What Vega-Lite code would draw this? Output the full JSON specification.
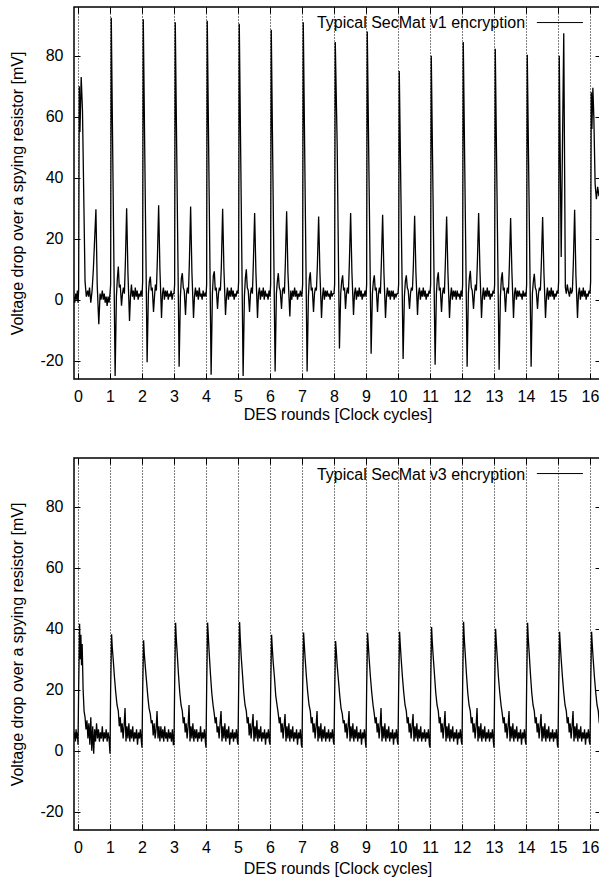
{
"$schema":"https://vega.github.io/schema/vega-lite/v6.json",
"padding":{"left":9,"top":5,"right":0,"bottom":0},
"background":"white",
"spacing":33,
"config":{
 "font":"Liberation Sans",
 "view":{"stroke":"black","strokeWidth":1.5},
 "axis":{"labelFont":"Liberation Sans","titleFont":"Liberation Sans","labelFontSize":16,"titleFontSize":16,"titleFontWeight":"normal","labelColor":"black","titleColor":"black","tickColor":"black","tickWidth":1,"domain":false,"labelFlush":false,"labelOverlap":false}
},
"datasets":{
"v1":[
{"x":-0.125,"y":1},{"x":-0.1,"y":-1},{"x":-0.07,"y":2},{"x":-0.04,"y":0},{"x":-0.02,"y":3},{"x":0,"y":-1},{"x":0.02,"y":3},{"x":0.04,"y":70},{"x":0.06,"y":55},{"x":0.1,"y":73},{"x":0.14,"y":62},{"x":0.22,"y":6},{"x":0.26,"y":1},{"x":0.3,"y":3},{"x":0.33,"y":1},{"x":0.36,"y":4},{"x":0.4,"y":-1},{"x":0.44,"y":3},{"x":0.48,"y":10},{"x":0.56,"y":29.7},{"x":0.6,"y":5},{"x":0.65,"y":-8},{"x":0.69,"y":2},{"x":0.72,"y":0},{"x":0.76,"y":3},{"x":0.79,"y":0},{"x":0.82,"y":2},{"x":0.85,"y":-1},{"x":0.88,"y":1},{"x":0.91,"y":-2},{"x":0.94,"y":1},{"x":0.97,"y":-1},
{"x":1,"y":2},{"x":1.02,"y":5},{"x":1.04,"y":92.5},{"x":1.16,"y":-25},{"x":1.2,"y":1},{"x":1.23,"y":7},{"x":1.26,"y":10.9},{"x":1.29,"y":4},{"x":1.32,"y":5},{"x":1.36,"y":-2},{"x":1.39,"y":2},{"x":1.42,"y":4},{"x":1.45,"y":2},{"x":1.48,"y":12},{"x":1.52,"y":30},{"x":1.56,"y":9},{"x":1.61,"y":-7},{"x":1.64,"y":1},{"x":1.67,"y":5},{"x":1.7,"y":1},{"x":1.73,"y":3},{"x":1.76,"y":0},{"x":1.79,"y":4},{"x":1.82,"y":1},{"x":1.85,"y":3},{"x":1.88,"y":0},{"x":1.91,"y":2},{"x":1.94,"y":1},{"x":1.97,"y":3},
{"x":2,"y":1},{"x":2.02,"y":6},{"x":2.04,"y":92},{"x":2.16,"y":-20.5},{"x":2.2,"y":2},{"x":2.23,"y":6},{"x":2.26,"y":7.6},{"x":2.29,"y":3},{"x":2.32,"y":4},{"x":2.36,"y":-4},{"x":2.39,"y":1},{"x":2.42,"y":5},{"x":2.45,"y":3},{"x":2.48,"y":13},{"x":2.52,"y":31},{"x":2.56,"y":10},{"x":2.61,"y":-6},{"x":2.64,"y":2},{"x":2.67,"y":4},{"x":2.7,"y":0},{"x":2.73,"y":3},{"x":2.76,"y":1},{"x":2.79,"y":3},{"x":2.82,"y":0},{"x":2.85,"y":2},{"x":2.88,"y":1},{"x":2.91,"y":3},{"x":2.94,"y":0},{"x":2.97,"y":2},
{"x":3,"y":2},{"x":3.02,"y":5},{"x":3.04,"y":91},{"x":3.16,"y":-22},{"x":3.2,"y":1},{"x":3.23,"y":7},{"x":3.26,"y":8.7},{"x":3.29,"y":4},{"x":3.32,"y":3},{"x":3.36,"y":-5},{"x":3.39,"y":2},{"x":3.42,"y":4},{"x":3.45,"y":2},{"x":3.48,"y":12},{"x":3.52,"y":30.6},{"x":3.56,"y":9},{"x":3.61,"y":-6},{"x":3.64,"y":1},{"x":3.67,"y":4},{"x":3.7,"y":1},{"x":3.73,"y":3},{"x":3.76,"y":0},{"x":3.79,"y":4},{"x":3.82,"y":1},{"x":3.85,"y":2},{"x":3.88,"y":0},{"x":3.91,"y":3},{"x":3.94,"y":1},{"x":3.97,"y":2},
{"x":4,"y":1},{"x":4.02,"y":5},{"x":4.04,"y":91.5},{"x":4.16,"y":-24.6},{"x":4.2,"y":2},{"x":4.23,"y":8},{"x":4.26,"y":9.3},{"x":4.29,"y":3},{"x":4.32,"y":4},{"x":4.36,"y":-3},{"x":4.39,"y":2},{"x":4.42,"y":4},{"x":4.45,"y":3},{"x":4.48,"y":11},{"x":4.52,"y":29.8},{"x":4.56,"y":10},{"x":4.61,"y":-5},{"x":4.64,"y":1},{"x":4.67,"y":4},{"x":4.7,"y":0},{"x":4.73,"y":3},{"x":4.76,"y":1},{"x":4.79,"y":4},{"x":4.82,"y":1},{"x":4.85,"y":3},{"x":4.88,"y":0},{"x":4.91,"y":2},{"x":4.94,"y":1},{"x":4.97,"y":3},
{"x":5,"y":2},{"x":5.02,"y":6},{"x":5.04,"y":90.5},{"x":5.16,"y":-25},{"x":5.2,"y":1},{"x":5.23,"y":7},{"x":5.26,"y":10},{"x":5.29,"y":4},{"x":5.32,"y":3},{"x":5.36,"y":-4},{"x":5.39,"y":2},{"x":5.42,"y":4},{"x":5.45,"y":2},{"x":5.48,"y":12},{"x":5.52,"y":28.4},{"x":5.56,"y":9},{"x":5.61,"y":-6},{"x":5.64,"y":2},{"x":5.67,"y":4},{"x":5.7,"y":0},{"x":5.73,"y":3},{"x":5.76,"y":1},{"x":5.79,"y":4},{"x":5.82,"y":0},{"x":5.85,"y":3},{"x":5.88,"y":1},{"x":5.91,"y":2},{"x":5.94,"y":0},{"x":5.97,"y":3},
{"x":6,"y":1},{"x":6.02,"y":5},{"x":6.04,"y":88.5},{"x":6.16,"y":-23.5},{"x":6.2,"y":2},{"x":6.23,"y":6},{"x":6.26,"y":8.7},{"x":6.29,"y":4},{"x":6.32,"y":3},{"x":6.36,"y":-3},{"x":6.39,"y":3},{"x":6.42,"y":4},{"x":6.45,"y":2},{"x":6.48,"y":12},{"x":6.52,"y":29},{"x":6.56,"y":9},{"x":6.62,"y":-5.5},{"x":6.65,"y":3},{"x":6.68,"y":0},{"x":6.71,"y":3},{"x":6.74,"y":1},{"x":6.77,"y":4},{"x":6.8,"y":1},{"x":6.83,"y":3},{"x":6.86,"y":0},{"x":6.89,"y":2},{"x":6.92,"y":1},{"x":6.95,"y":3},{"x":6.98,"y":1},
{"x":7,"y":2},{"x":7.02,"y":5},{"x":7.04,"y":91},{"x":7.16,"y":-23.5},{"x":7.2,"y":1},{"x":7.23,"y":7},{"x":7.26,"y":9},{"x":7.29,"y":3},{"x":7.32,"y":4},{"x":7.36,"y":-4},{"x":7.39,"y":2},{"x":7.42,"y":4},{"x":7.45,"y":3},{"x":7.48,"y":11},{"x":7.52,"y":27.3},{"x":7.56,"y":9},{"x":7.61,"y":-6},{"x":7.64,"y":1},{"x":7.67,"y":4},{"x":7.7,"y":0},{"x":7.73,"y":3},{"x":7.76,"y":1},{"x":7.79,"y":3},{"x":7.82,"y":1},{"x":7.85,"y":2},{"x":7.88,"y":0},{"x":7.91,"y":3},{"x":7.94,"y":1},{"x":7.97,"y":2},
{"x":8,"y":2},{"x":8.02,"y":5},{"x":8.04,"y":84.5},{"x":8.08,"y":62},{"x":8.1,"y":50},{"x":8.17,"y":-16},{"x":8.21,"y":2},{"x":8.24,"y":6},{"x":8.27,"y":8},{"x":8.3,"y":3},{"x":8.33,"y":4},{"x":8.36,"y":-3},{"x":8.39,"y":2},{"x":8.42,"y":4},{"x":8.45,"y":2},{"x":8.48,"y":12},{"x":8.52,"y":28.4},{"x":8.56,"y":9},{"x":8.61,"y":-5},{"x":8.64,"y":2},{"x":8.67,"y":4},{"x":8.7,"y":0},{"x":8.73,"y":3},{"x":8.76,"y":1},{"x":8.79,"y":4},{"x":8.82,"y":1},{"x":8.85,"y":3},{"x":8.88,"y":0},{"x":8.91,"y":2},{"x":8.94,"y":1},{"x":8.97,"y":3},
{"x":9,"y":1},{"x":9.02,"y":5},{"x":9.04,"y":88},{"x":9.16,"y":-17.7},{"x":9.2,"y":2},{"x":9.23,"y":6},{"x":9.26,"y":8},{"x":9.29,"y":3},{"x":9.32,"y":4},{"x":9.36,"y":-4},{"x":9.39,"y":2},{"x":9.42,"y":4},{"x":9.45,"y":2},{"x":9.48,"y":12},{"x":9.52,"y":27.9},{"x":9.56,"y":9},{"x":9.61,"y":-6},{"x":9.64,"y":1},{"x":9.67,"y":4},{"x":9.7,"y":1},{"x":9.73,"y":3},{"x":9.76,"y":0},{"x":9.79,"y":3},{"x":9.82,"y":1},{"x":9.85,"y":3},{"x":9.88,"y":0},{"x":9.91,"y":2},{"x":9.94,"y":1},{"x":9.97,"y":2},
{"x":10,"y":2},{"x":10.02,"y":5},{"x":10.04,"y":75},{"x":10.16,"y":-19.4},{"x":10.2,"y":1},{"x":10.23,"y":6},{"x":10.26,"y":8},{"x":10.29,"y":4},{"x":10.32,"y":3},{"x":10.36,"y":-3},{"x":10.39,"y":2},{"x":10.42,"y":4},{"x":10.45,"y":3},{"x":10.48,"y":11},{"x":10.52,"y":27.5},{"x":10.56,"y":9},{"x":10.61,"y":-5},{"x":10.64,"y":2},{"x":10.67,"y":4},{"x":10.7,"y":0},{"x":10.73,"y":3},{"x":10.76,"y":1},{"x":10.79,"y":4},{"x":10.82,"y":1},{"x":10.85,"y":3},{"x":10.88,"y":0},{"x":10.91,"y":2},{"x":10.94,"y":1},{"x":10.97,"y":3},
{"x":11,"y":2},{"x":11.02,"y":5},{"x":11.04,"y":80},{"x":11.16,"y":-21.3},{"x":11.2,"y":2},{"x":11.23,"y":7},{"x":11.26,"y":9},{"x":11.29,"y":3},{"x":11.32,"y":4},{"x":11.36,"y":-4},{"x":11.39,"y":2},{"x":11.42,"y":4},{"x":11.45,"y":2},{"x":11.48,"y":12},{"x":11.52,"y":27.3},{"x":11.56,"y":9},{"x":11.61,"y":-6},{"x":11.64,"y":1},{"x":11.67,"y":4},{"x":11.7,"y":0},{"x":11.73,"y":3},{"x":11.76,"y":1},{"x":11.79,"y":3},{"x":11.82,"y":0},{"x":11.85,"y":3},{"x":11.88,"y":1},{"x":11.91,"y":2},{"x":11.94,"y":0},{"x":11.97,"y":3},
{"x":12,"y":1},{"x":12.02,"y":5},{"x":12.04,"y":84.5},{"x":12.16,"y":-22},{"x":12.2,"y":2},{"x":12.23,"y":7},{"x":12.26,"y":9.5},{"x":12.29,"y":4},{"x":12.32,"y":3},{"x":12.36,"y":-3},{"x":12.39,"y":2},{"x":12.42,"y":5},{"x":12.45,"y":3},{"x":12.48,"y":12},{"x":12.52,"y":28.4},{"x":12.56,"y":10},{"x":12.61,"y":-6},{"x":12.64,"y":1},{"x":12.67,"y":4},{"x":12.7,"y":0},{"x":12.73,"y":3},{"x":12.76,"y":1},{"x":12.79,"y":4},{"x":12.82,"y":1},{"x":12.85,"y":3},{"x":12.88,"y":0},{"x":12.91,"y":2},{"x":12.94,"y":1},{"x":12.97,"y":3},
{"x":13,"y":2},{"x":13.02,"y":5},{"x":13.04,"y":82.3},{"x":13.16,"y":-23},{"x":13.2,"y":1},{"x":13.23,"y":7},{"x":13.26,"y":9},{"x":13.29,"y":3},{"x":13.32,"y":4},{"x":13.36,"y":-4},{"x":13.39,"y":2},{"x":13.42,"y":4},{"x":13.45,"y":2},{"x":13.48,"y":11},{"x":13.52,"y":26.8},{"x":13.56,"y":9},{"x":13.61,"y":-6},{"x":13.64,"y":2},{"x":13.67,"y":4},{"x":13.7,"y":0},{"x":13.73,"y":3},{"x":13.76,"y":1},{"x":13.79,"y":3},{"x":13.82,"y":1},{"x":13.85,"y":2},{"x":13.88,"y":0},{"x":13.91,"y":3},{"x":13.94,"y":1},{"x":13.97,"y":2},
{"x":14,"y":1},{"x":14.02,"y":5},{"x":14.04,"y":80.3},{"x":14.16,"y":-22},{"x":14.2,"y":2},{"x":14.23,"y":6},{"x":14.26,"y":8.5},{"x":14.29,"y":4},{"x":14.32,"y":3},{"x":14.36,"y":-3},{"x":14.39,"y":2},{"x":14.42,"y":4},{"x":14.45,"y":3},{"x":14.48,"y":12},{"x":14.52,"y":27.1},{"x":14.56,"y":9},{"x":14.61,"y":-6},{"x":14.64,"y":1},{"x":14.67,"y":4},{"x":14.7,"y":0},{"x":14.73,"y":3},{"x":14.76,"y":1},{"x":14.79,"y":4},{"x":14.82,"y":1},{"x":14.85,"y":3},{"x":14.88,"y":0},{"x":14.91,"y":2},{"x":14.94,"y":1},{"x":14.97,"y":3},
{"x":15,"y":2},{"x":15.02,"y":6},{"x":15.04,"y":80},{"x":15.1,"y":14},{"x":15.18,"y":87.4},{"x":15.23,"y":4},{"x":15.26,"y":2},{"x":15.29,"y":5},{"x":15.32,"y":3},{"x":15.36,"y":1},{"x":15.39,"y":4},{"x":15.42,"y":2},{"x":15.45,"y":3},{"x":15.48,"y":12},{"x":15.52,"y":29.5},{"x":15.56,"y":8},{"x":15.61,"y":-6},{"x":15.64,"y":2},{"x":15.67,"y":4},{"x":15.7,"y":0},{"x":15.73,"y":3},{"x":15.76,"y":1},{"x":15.79,"y":4},{"x":15.82,"y":1},{"x":15.85,"y":3},{"x":15.88,"y":0},{"x":15.91,"y":2},{"x":15.94,"y":1},{"x":15.97,"y":3},
{"x":16,"y":2},{"x":16.02,"y":6},{"x":16.04,"y":68},{"x":16.06,"y":56},{"x":16.09,"y":69.5},{"x":16.12,"y":60},{"x":16.16,"y":38},{"x":16.2,"y":33},{"x":16.24,"y":37},{"x":16.28,"y":34},{"x":16.32,"y":36},{"x":16.36,"y":33}
],
"v3":[
{"x":-0.125,"y":4},{"x":-0.1,"y":6},{"x":-0.08,"y":3},{"x":-0.06,"y":7},{"x":-0.04,"y":4},{"x":-0.02,"y":6},{"x":0,"y":2},{"x":0.02,"y":20},{"x":0.05,"y":41.6},{"x":0.07,"y":30},{"x":0.09,"y":38},{"x":0.11,"y":28},{"x":0.13,"y":35},{"x":0.16,"y":20},{"x":0.19,"y":13},{"x":0.22,"y":11},{"x":0.25,"y":7},{"x":0.28,"y":10},{"x":0.31,"y":4},{"x":0.34,"y":9},{"x":0.37,"y":2},{"x":0.4,"y":11},{"x":0.43,"y":0},{"x":0.46,"y":8},{"x":0.49,"y":-1},{"x":0.52,"y":7},{"x":0.55,"y":3},{"x":0.58,"y":9},{"x":0.61,"y":4},{"x":0.64,"y":7},{"x":0.67,"y":3},{"x":0.7,"y":6},{"x":0.73,"y":4},{"x":0.76,"y":8},{"x":0.79,"y":3},{"x":0.82,"y":6},{"x":0.85,"y":4},{"x":0.88,"y":7},{"x":0.91,"y":3},{"x":0.94,"y":6},{"x":0.97,"y":4},
{"x":1,"y":-1},{"x":1.02,"y":20},{"x":1.05,"y":38.2},{"x":1.07,"y":34},{"x":1.1,"y":30},{"x":1.14,"y":24},{"x":1.18,"y":19},{"x":1.22,"y":15},{"x":1.26,"y":13},{"x":1.29,"y":8},{"x":1.32,"y":11},{"x":1.35,"y":6},{"x":1.38,"y":9},{"x":1.41,"y":4},{"x":1.44,"y":8},{"x":1.47,"y":14},{"x":1.5,"y":3},{"x":1.53,"y":8},{"x":1.56,"y":4},{"x":1.59,"y":9},{"x":1.62,"y":3},{"x":1.65,"y":7},{"x":1.68,"y":4},{"x":1.71,"y":8},{"x":1.74,"y":3},{"x":1.77,"y":6},{"x":1.8,"y":4},{"x":1.83,"y":7},{"x":1.86,"y":2},{"x":1.89,"y":6},{"x":1.92,"y":4},{"x":1.95,"y":7},{"x":1.98,"y":3},
{"x":2,"y":1},{"x":2.02,"y":19},{"x":2.05,"y":36.2},{"x":2.07,"y":32},{"x":2.1,"y":28},{"x":2.14,"y":23},{"x":2.18,"y":18},{"x":2.22,"y":14},{"x":2.26,"y":12},{"x":2.29,"y":9},{"x":2.32,"y":10},{"x":2.35,"y":5},{"x":2.38,"y":9},{"x":2.41,"y":4},{"x":2.44,"y":7},{"x":2.47,"y":13},{"x":2.5,"y":4},{"x":2.53,"y":8},{"x":2.56,"y":3},{"x":2.59,"y":8},{"x":2.62,"y":4},{"x":2.65,"y":7},{"x":2.68,"y":3},{"x":2.71,"y":8},{"x":2.74,"y":4},{"x":2.77,"y":6},{"x":2.8,"y":3},{"x":2.83,"y":7},{"x":2.86,"y":4},{"x":2.89,"y":6},{"x":2.92,"y":3},{"x":2.95,"y":7},{"x":2.98,"y":2},
{"x":3,"y":2},{"x":3.02,"y":21},{"x":3.05,"y":42},{"x":3.07,"y":37},{"x":3.1,"y":32},{"x":3.14,"y":25},{"x":3.18,"y":19},{"x":3.22,"y":15},{"x":3.26,"y":13},{"x":3.29,"y":9},{"x":3.32,"y":11},{"x":3.35,"y":6},{"x":3.38,"y":9},{"x":3.41,"y":4},{"x":3.44,"y":8},{"x":3.47,"y":15},{"x":3.5,"y":3},{"x":3.53,"y":8},{"x":3.56,"y":4},{"x":3.59,"y":9},{"x":3.62,"y":3},{"x":3.65,"y":7},{"x":3.68,"y":4},{"x":3.71,"y":7},{"x":3.74,"y":3},{"x":3.77,"y":6},{"x":3.8,"y":4},{"x":3.83,"y":8},{"x":3.86,"y":3},{"x":3.89,"y":6},{"x":3.92,"y":4},{"x":3.95,"y":7},{"x":3.98,"y":3},
{"x":4,"y":1},{"x":4.02,"y":20},{"x":4.05,"y":42},{"x":4.07,"y":38},{"x":4.1,"y":32},{"x":4.14,"y":25},{"x":4.18,"y":19},{"x":4.22,"y":15},{"x":4.26,"y":12},{"x":4.29,"y":9},{"x":4.32,"y":11},{"x":4.35,"y":6},{"x":4.38,"y":8},{"x":4.41,"y":4},{"x":4.44,"y":9},{"x":4.47,"y":13},{"x":4.5,"y":3},{"x":4.53,"y":8},{"x":4.56,"y":4},{"x":4.59,"y":9},{"x":4.62,"y":3},{"x":4.65,"y":7},{"x":4.68,"y":4},{"x":4.71,"y":8},{"x":4.74,"y":2},{"x":4.77,"y":6},{"x":4.8,"y":4},{"x":4.83,"y":7},{"x":4.86,"y":3},{"x":4.89,"y":6},{"x":4.92,"y":4},{"x":4.95,"y":7},{"x":4.98,"y":3},
{"x":5,"y":2},{"x":5.02,"y":20},{"x":5.05,"y":42.2},{"x":5.07,"y":37},{"x":5.1,"y":31},{"x":5.14,"y":25},{"x":5.18,"y":19},{"x":5.22,"y":15},{"x":5.26,"y":13},{"x":5.29,"y":9},{"x":5.32,"y":11},{"x":5.35,"y":5},{"x":5.38,"y":9},{"x":5.41,"y":4},{"x":5.44,"y":8},{"x":5.47,"y":12},{"x":5.5,"y":3},{"x":5.53,"y":8},{"x":5.56,"y":4},{"x":5.59,"y":10},{"x":5.62,"y":3},{"x":5.65,"y":7},{"x":5.68,"y":4},{"x":5.71,"y":8},{"x":5.74,"y":3},{"x":5.77,"y":6},{"x":5.8,"y":4},{"x":5.83,"y":7},{"x":5.86,"y":2},{"x":5.89,"y":6},{"x":5.92,"y":4},{"x":5.95,"y":7},{"x":5.98,"y":3},
{"x":6,"y":2},{"x":6.02,"y":19},{"x":6.05,"y":38},{"x":6.07,"y":34},{"x":6.1,"y":29},{"x":6.14,"y":24},{"x":6.18,"y":18},{"x":6.22,"y":15},{"x":6.26,"y":12},{"x":6.29,"y":9},{"x":6.32,"y":11},{"x":6.35,"y":6},{"x":6.38,"y":9},{"x":6.41,"y":4},{"x":6.44,"y":8},{"x":6.47,"y":12},{"x":6.5,"y":3},{"x":6.53,"y":8},{"x":6.56,"y":4},{"x":6.59,"y":9},{"x":6.62,"y":3},{"x":6.65,"y":7},{"x":6.68,"y":4},{"x":6.71,"y":8},{"x":6.74,"y":3},{"x":6.77,"y":6},{"x":6.8,"y":4},{"x":6.83,"y":7},{"x":6.86,"y":2},{"x":6.89,"y":6},{"x":6.92,"y":4},{"x":6.95,"y":7},{"x":6.98,"y":2},
{"x":7,"y":1},{"x":7.02,"y":20},{"x":7.05,"y":38.8},{"x":7.07,"y":35},{"x":7.1,"y":30},{"x":7.14,"y":24},{"x":7.18,"y":19},{"x":7.22,"y":15},{"x":7.26,"y":13},{"x":7.29,"y":9},{"x":7.32,"y":11},{"x":7.35,"y":6},{"x":7.38,"y":9},{"x":7.41,"y":4},{"x":7.44,"y":8},{"x":7.47,"y":13},{"x":7.5,"y":3},{"x":7.53,"y":8},{"x":7.56,"y":4},{"x":7.59,"y":9},{"x":7.62,"y":3},{"x":7.65,"y":7},{"x":7.68,"y":4},{"x":7.71,"y":8},{"x":7.74,"y":3},{"x":7.77,"y":6},{"x":7.8,"y":4},{"x":7.83,"y":7},{"x":7.86,"y":3},{"x":7.89,"y":6},{"x":7.92,"y":4},{"x":7.95,"y":7},{"x":7.98,"y":3},
{"x":8,"y":2},{"x":8.02,"y":18},{"x":8.05,"y":36},{"x":8.07,"y":33},{"x":8.1,"y":28},{"x":8.14,"y":23},{"x":8.18,"y":18},{"x":8.22,"y":14},{"x":8.26,"y":12},{"x":8.29,"y":9},{"x":8.32,"y":10},{"x":8.35,"y":6},{"x":8.38,"y":9},{"x":8.41,"y":4},{"x":8.44,"y":8},{"x":8.47,"y":13},{"x":8.5,"y":3},{"x":8.53,"y":8},{"x":8.56,"y":4},{"x":8.59,"y":9},{"x":8.62,"y":3},{"x":8.65,"y":7},{"x":8.68,"y":4},{"x":8.71,"y":8},{"x":8.74,"y":3},{"x":8.77,"y":6},{"x":8.8,"y":4},{"x":8.83,"y":7},{"x":8.86,"y":2},{"x":8.89,"y":6},{"x":8.92,"y":4},{"x":8.95,"y":7},{"x":8.98,"y":3},
{"x":9,"y":1},{"x":9.02,"y":20},{"x":9.05,"y":38.7},{"x":9.07,"y":35},{"x":9.1,"y":30},{"x":9.14,"y":24},{"x":9.18,"y":19},{"x":9.22,"y":15},{"x":9.26,"y":12},{"x":9.29,"y":9},{"x":9.32,"y":11},{"x":9.35,"y":6},{"x":9.38,"y":9},{"x":9.41,"y":4},{"x":9.44,"y":8},{"x":9.47,"y":14},{"x":9.5,"y":3},{"x":9.53,"y":8},{"x":9.56,"y":4},{"x":9.59,"y":9},{"x":9.62,"y":3},{"x":9.65,"y":7},{"x":9.68,"y":4},{"x":9.71,"y":8},{"x":9.74,"y":3},{"x":9.77,"y":6},{"x":9.8,"y":4},{"x":9.83,"y":7},{"x":9.86,"y":2},{"x":9.89,"y":6},{"x":9.92,"y":4},{"x":9.95,"y":7},{"x":9.98,"y":3},
{"x":10,"y":2},{"x":10.02,"y":20},{"x":10.05,"y":39},{"x":10.07,"y":35},{"x":10.1,"y":30},{"x":10.14,"y":24},{"x":10.18,"y":19},{"x":10.22,"y":15},{"x":10.26,"y":13},{"x":10.29,"y":9},{"x":10.32,"y":11},{"x":10.35,"y":6},{"x":10.38,"y":9},{"x":10.41,"y":4},{"x":10.44,"y":8},{"x":10.47,"y":12},{"x":10.5,"y":3},{"x":10.53,"y":8},{"x":10.56,"y":4},{"x":10.59,"y":9},{"x":10.62,"y":3},{"x":10.65,"y":7},{"x":10.68,"y":4},{"x":10.71,"y":8},{"x":10.74,"y":3},{"x":10.77,"y":6},{"x":10.8,"y":4},{"x":10.83,"y":7},{"x":10.86,"y":3},{"x":10.89,"y":6},{"x":10.92,"y":4},{"x":10.95,"y":7},{"x":10.98,"y":2},
{"x":11,"y":1},{"x":11.02,"y":20},{"x":11.05,"y":40.6},{"x":11.07,"y":36},{"x":11.1,"y":31},{"x":11.14,"y":25},{"x":11.18,"y":19},{"x":11.22,"y":15},{"x":11.26,"y":13},{"x":11.29,"y":9},{"x":11.32,"y":11},{"x":11.35,"y":6},{"x":11.38,"y":9},{"x":11.41,"y":4},{"x":11.44,"y":8},{"x":11.47,"y":13},{"x":11.5,"y":3},{"x":11.53,"y":8},{"x":11.56,"y":4},{"x":11.59,"y":9},{"x":11.62,"y":3},{"x":11.65,"y":7},{"x":11.68,"y":4},{"x":11.71,"y":8},{"x":11.74,"y":3},{"x":11.77,"y":6},{"x":11.8,"y":4},{"x":11.83,"y":7},{"x":11.86,"y":2},{"x":11.89,"y":6},{"x":11.92,"y":4},{"x":11.95,"y":7},{"x":11.98,"y":3},
{"x":12,"y":2},{"x":12.02,"y":21},{"x":12.05,"y":42.3},{"x":12.07,"y":37},{"x":12.1,"y":32},{"x":12.14,"y":25},{"x":12.18,"y":19},{"x":12.22,"y":15},{"x":12.26,"y":13},{"x":12.29,"y":9},{"x":12.32,"y":11},{"x":12.35,"y":6},{"x":12.38,"y":9},{"x":12.41,"y":4},{"x":12.44,"y":8},{"x":12.47,"y":14},{"x":12.5,"y":3},{"x":12.53,"y":8},{"x":12.56,"y":4},{"x":12.59,"y":9},{"x":12.62,"y":3},{"x":12.65,"y":7},{"x":12.68,"y":4},{"x":12.71,"y":8},{"x":12.74,"y":3},{"x":12.77,"y":6},{"x":12.8,"y":4},{"x":12.83,"y":7},{"x":12.86,"y":3},{"x":12.89,"y":6},{"x":12.92,"y":4},{"x":12.95,"y":7},{"x":12.98,"y":3},
{"x":13,"y":1},{"x":13.02,"y":20},{"x":13.05,"y":40},{"x":13.07,"y":36},{"x":13.1,"y":31},{"x":13.14,"y":24},{"x":13.18,"y":19},{"x":13.22,"y":15},{"x":13.26,"y":12},{"x":13.29,"y":9},{"x":13.32,"y":11},{"x":13.35,"y":6},{"x":13.38,"y":9},{"x":13.41,"y":4},{"x":13.44,"y":8},{"x":13.47,"y":13},{"x":13.5,"y":3},{"x":13.53,"y":8},{"x":13.56,"y":4},{"x":13.59,"y":9},{"x":13.62,"y":3},{"x":13.65,"y":7},{"x":13.68,"y":4},{"x":13.71,"y":8},{"x":13.74,"y":3},{"x":13.77,"y":6},{"x":13.8,"y":4},{"x":13.83,"y":7},{"x":13.86,"y":2},{"x":13.89,"y":6},{"x":13.92,"y":4},{"x":13.95,"y":7},{"x":13.98,"y":3},
{"x":14,"y":2},{"x":14.02,"y":21},{"x":14.05,"y":42},{"x":14.07,"y":37},{"x":14.1,"y":32},{"x":14.14,"y":25},{"x":14.18,"y":19},{"x":14.22,"y":15},{"x":14.26,"y":13},{"x":14.29,"y":9},{"x":14.32,"y":11},{"x":14.35,"y":6},{"x":14.38,"y":9},{"x":14.41,"y":4},{"x":14.44,"y":8},{"x":14.47,"y":12},{"x":14.5,"y":3},{"x":14.53,"y":8},{"x":14.56,"y":4},{"x":14.59,"y":9},{"x":14.62,"y":3},{"x":14.65,"y":7},{"x":14.68,"y":4},{"x":14.71,"y":8},{"x":14.74,"y":3},{"x":14.77,"y":6},{"x":14.8,"y":4},{"x":14.83,"y":7},{"x":14.86,"y":3},{"x":14.89,"y":6},{"x":14.92,"y":4},{"x":14.95,"y":7},{"x":14.98,"y":2},
{"x":15,"y":1},{"x":15.02,"y":20},{"x":15.05,"y":39},{"x":15.07,"y":35},{"x":15.1,"y":30},{"x":15.14,"y":24},{"x":15.18,"y":19},{"x":15.22,"y":15},{"x":15.26,"y":13},{"x":15.29,"y":9},{"x":15.32,"y":11},{"x":15.35,"y":6},{"x":15.38,"y":9},{"x":15.41,"y":4},{"x":15.44,"y":8},{"x":15.47,"y":13},{"x":15.5,"y":3},{"x":15.53,"y":8},{"x":15.56,"y":4},{"x":15.59,"y":9},{"x":15.62,"y":3},{"x":15.65,"y":7},{"x":15.68,"y":4},{"x":15.71,"y":8},{"x":15.74,"y":3},{"x":15.77,"y":6},{"x":15.8,"y":4},{"x":15.83,"y":7},{"x":15.86,"y":2},{"x":15.89,"y":6},{"x":15.92,"y":4},{"x":15.95,"y":7},{"x":15.98,"y":3},
{"x":16,"y":2},{"x":16.02,"y":20},{"x":16.05,"y":39},{"x":16.07,"y":35},{"x":16.1,"y":30},{"x":16.14,"y":24},{"x":16.18,"y":19},{"x":16.22,"y":15},{"x":16.26,"y":13},{"x":16.29,"y":9},{"x":16.32,"y":11},{"x":16.36,"y":8}
]
},
"vconcat":[
{
 "width":527,"height":372,
 "layer":[
  {"data":{"name":"v1"},"mark":{"type":"line","color":"black","strokeWidth":1.3,"clip":true},
   "encoding":{
    "x":{"field":"x","type":"quantitative","scale":{"domain":[-0.125,16.344],"nice":false,"zero":false},
     "axis":{"orient":"bottom","title":"DES rounds [Clock cycles]","values":[0,1,2,3,4,5,6,7,8,9,10,11,12,13,14,15,16],"format":"d","grid":true,"gridDash":[1,2],"gridColor":"black","gridOpacity":1,"gridWidth":1,"tickSize":-6,"labelPadding":15,"titlePadding":2}},
    "y":{"field":"y","type":"quantitative","scale":{"domain":[-26,96],"nice":false,"zero":false},
     "axis":{"orient":"left","title":"Voltage drop over a spying resistor [mV]","values":[-20,0,20,40,60,80],"labelExpr":"'' + datum.value","grid":false,"tickSize":-6,"labelPadding":17,"titlePadding":14}}}},
  {"data":{"values":[{}]},"mark":{"type":"text","align":"right","baseline":"alphabetic","fontSize":16,"font":"Liberation Sans","color":"black"},
   "encoding":{"x":{"datum":13.97,"axis":null},"y":{"datum":89.1,"axis":null},"text":{"value":"Typical SecMat v1 encryption"}}},
  {"data":{"values":[{}]},"mark":{"type":"rule","color":"black","strokeWidth":1},
   "encoding":{"x":{"datum":14.34,"axis":{"orient":"top","labels":false,"title":null,"values":[0,1,2,3,4,5,6,7,8,9,10,11,12,13,14,15,16],"tickSize":-6,"grid":false}},"x2":{"datum":15.78},
    "y":{"datum":90.9,"axis":{"orient":"right","labels":false,"title":null,"values":[-20,0,20,40,60,80],"tickSize":-6,"grid":false}}}}
 ],
 "resolve":{"axis":{"x":"independent","y":"independent"}}
},
{
 "width":527,"height":372,
 "layer":[
  {"data":{"name":"v3"},"mark":{"type":"line","color":"black","strokeWidth":1.3,"clip":true},
   "encoding":{
    "x":{"field":"x","type":"quantitative","scale":{"domain":[-0.125,16.344],"nice":false,"zero":false},
     "axis":{"orient":"bottom","title":"DES rounds [Clock cycles]","values":[0,1,2,3,4,5,6,7,8,9,10,11,12,13,14,15,16],"format":"d","grid":true,"gridDash":[1,2],"gridColor":"black","gridOpacity":1,"gridWidth":1,"tickSize":-6,"labelPadding":15,"titlePadding":5}},
    "y":{"field":"y","type":"quantitative","scale":{"domain":[-26,96],"nice":false,"zero":false},
     "axis":{"orient":"left","title":"Voltage drop over a spying resistor [mV]","values":[-20,0,20,40,60,80],"labelExpr":"'' + datum.value","grid":false,"tickSize":-6,"labelPadding":17,"titlePadding":14}}}},
  {"data":{"values":[{}]},"mark":{"type":"text","align":"right","baseline":"alphabetic","fontSize":16,"font":"Liberation Sans","color":"black"},
   "encoding":{"x":{"datum":13.97,"axis":null},"y":{"datum":88.8,"axis":null},"text":{"value":"Typical SecMat v3 encryption"}}},
  {"data":{"values":[{}]},"mark":{"type":"rule","color":"black","strokeWidth":1},
   "encoding":{"x":{"datum":14.34,"axis":{"orient":"top","labels":false,"title":null,"values":[0,1,2,3,4,5,6,7,8,9,10,11,12,13,14,15,16],"tickSize":-6,"grid":false}},"x2":{"datum":15.78},
    "y":{"datum":90.9,"axis":{"orient":"right","labels":false,"title":null,"values":[-20,0,20,40,60,80],"tickSize":-6,"grid":false}}}}
 ],
 "resolve":{"axis":{"x":"independent","y":"independent"}}
}
]
}
